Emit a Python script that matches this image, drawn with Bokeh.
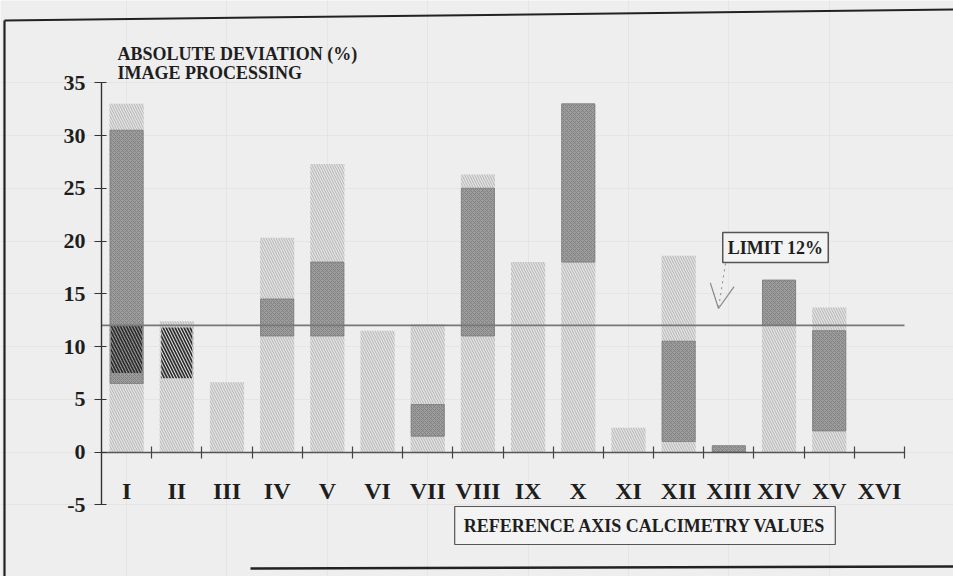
from bokeh.plotting import figure
from bokeh.models import Range1d, LinearAxis, FixedTicker, Label, Arrow, OpenHead, ColumnDataSource
from bokeh.embed import file_html
from bokeh.resources import INLINE

# ---------------- data ----------------
categories = ["I", "II", "III", "IV", "V", "VI", "VII", "VIII",
              "IX", "X", "XI", "XII", "XIII", "XIV", "XV", "XVI"]
totals = [33.0, 12.4, 6.6, 20.3, 27.3, 11.5, 12.1, 26.3,
          18.0, 33.0, 2.3, 18.6, 0.5, 16.3, 13.7, 0.0]
dark_low = [6.5, None, None, 11.0, 11.0, None, 1.5, 11.0,
            None, 18.0, None, 1.0, 0.0, 12.0, 2.0, None]
dark_high = [30.5, None, None, 14.5, 18.0, None, 4.5, 25.0,
             None, 33.0, None, 10.5, 0.6, 16.3, 11.5, None]
band_low = [7.5, 7.0, None, None, None, None, None, None,
            None, None, None, None, None, None, None, None]
band_high = [12.0, 11.8, None, None, None, None, None, None,
             None, None, None, None, None, None, None, None]
y_ticks = [-5, 0, 5, 10, 15, 20, 25, 30, 35]
y_tick_labels = ["-5", "0", "5", "10", "15", "20", "25", "30", "35"]
limit = 12
title_lines = ["ABSOLUTE DEVIATION (%)", "IMAGE PROCESSING"]
limit_text = "LIMIT 12%"
x_title = "REFERENCE AXIS CALCIMETRY VALUES"

# ---------------- layout (page pixels) ----------------
W, H = 953, 576
PX0, PY0 = 0, 0
frame_left_px, frame_right_px = 101, 904
y0_px, px_per_y = 451.5, 10.55
n = len(categories)
px_per_x = (frame_right_px - frame_left_px) / n
x_start = -0.5 - (frame_left_px - PX0) / px_per_x
x_end = x_start + W / px_per_x
y_end = (y0_px - PY0) / px_per_y
y_start = y_end - H / px_per_y


def dx(px):
    return x_start + (px - PX0) / px_per_x


def dy(py):
    return y_end - (py - PY0) / px_per_y


BG = "#eeeeee"
FONT = "Liberation Serif"

p = figure(width=W, height=H, x_range=Range1d(x_start, x_end), y_range=Range1d(y_start, y_end),
           x_axis_location=None, y_axis_location=None, toolbar_location=None,
           output_backend="svg", min_border=0)
p.min_border_left = p.min_border_right = p.min_border_top = p.min_border_bottom = 0
p.background_fill_color = BG
p.border_fill_color = BG
p.outline_line_color = None

idx = list(range(n))

# light bars
p.vbar(x=idx, top=totals, bottom=0, width=0.68, fill_color="#e3e3e3", line_color=None,
       hatch_pattern="\\", hatch_color="#b4b4b4", hatch_scale=5, hatch_weight=1)

# dark segments
dsrc = ColumnDataSource(dict(
    x=[i for i in idx if dark_low[i] is not None],
    lo=[dark_low[i] for i in idx if dark_low[i] is not None],
    hi=[dark_high[i] for i in idx if dark_low[i] is not None]))
p.vbar(x="x", top="hi", bottom="lo", width=0.66, source=dsrc, fill_color="#9d9d9d",
       line_color="#7a7a7a", line_width=0.8,
       hatch_pattern="x", hatch_color="#7b7b7b", hatch_scale=4, hatch_weight=0.8)

# dark-line bands
bsrc = ColumnDataSource(dict(
    x=[i for i in idx if band_low[i] is not None],
    lo=[band_low[i] for i in idx if band_low[i] is not None],
    hi=[band_high[i] for i in idx if band_low[i] is not None]))
p.vbar(x="x", top="hi", bottom="lo", width=0.62, source=bsrc, fill_color=None, fill_alpha=0,
       line_color=None, hatch_pattern="\\", hatch_color="#2a2a2a", hatch_scale=6, hatch_weight=1.6)

# limit line
p.line(x=[-0.5, n - 0.5], y=[limit, limit], line_color="#777777", line_width=1.6)

# axes
yaxis = LinearAxis(fixed_location=-0.5, bounds=(y_ticks[0], y_ticks[-1]),
                   ticker=FixedTicker(ticks=y_ticks, minor_ticks=[]))
yaxis.major_label_overrides = {v: s for v, s in zip(y_ticks, y_tick_labels)}
yaxis.axis_line_color = "#333333"
yaxis.axis_line_width = 1.4
yaxis.major_tick_line_color = "#333333"
yaxis.major_tick_in = 5
yaxis.major_tick_out = 7
yaxis.minor_tick_line_color = None
yaxis.major_label_standoff = 9
yaxis.major_label_text_font = FONT
yaxis.major_label_text_font_style = "bold"
yaxis.major_label_text_font_size = "22px"
yaxis.major_label_text_color = "#1e1e1e"
p.add_layout(yaxis, "left")

xaxis = LinearAxis(fixed_location=0, bounds=(-0.5, n - 0.5),
                   ticker=FixedTicker(ticks=idx, minor_ticks=[i + 0.5 for i in idx]))
xaxis.major_label_overrides = {i: c for i, c in enumerate(categories)}
xaxis.axis_line_color = "#555555"
xaxis.axis_line_width = 1.4
xaxis.major_tick_in = 0
xaxis.major_tick_out = 0
xaxis.minor_tick_in = 6
xaxis.minor_tick_out = 6
xaxis.minor_tick_line_color = "#444444"
xaxis.minor_tick_line_width = 1.2
xaxis.major_label_standoff = 20
xaxis.major_label_text_font = FONT
xaxis.major_label_text_font_style = "bold"
xaxis.major_label_text_font_size = "24px"
xaxis.major_label_text_color = "#1e1e1e"
p.add_layout(xaxis, "below")

# titles
for t, base_py in zip(title_lines, [53, 72]):
    p.add_layout(Label(x=dx(117), y=dy(base_py), text=t, text_font=FONT, text_font_style="bold",
                       text_font_size="18px", text_color="#1e1e1e", text_align="left",
                       text_baseline="alphabetic"))

# limit box and arrow
p.add_layout(Label(x=dx(775), y=dy(247), text=limit_text, text_font=FONT, text_font_style="bold",
                   text_font_size="18px", text_color="#1e1e1e", text_align="center",
                   text_baseline="middle", padding=5, border_line_color="#555555",
                   border_line_width=1.5, background_fill_color="#f3f3f3"))
p.add_layout(Arrow(x_start=dx(725), y_start=dy(263), x_end=dx(718), y_end=dy(308),
                   line_color="#888888", line_width=1, line_dash="dotted",
                   end=OpenHead(size=24, line_color="#888888", line_width=1.2)))

# x-axis title box
p.add_layout(Label(x=dx(644.5), y=dy(525), text=x_title, text_font=FONT, text_font_style="bold",
                   text_font_size="18px", text_color="#1e1e1e", text_align="center",
                   text_baseline="middle", padding=9, border_line_color="#555555",
                   border_line_width=1.2, background_fill_color="#f3f3f3"))

# page frame of the scanned figure
p.line(x=[dx(4), dx(4)], y=[dy(576), dy(20)], line_color="#222222", line_width=2.2)
p.line(x=[dx(4), dx(953)], y=[dy(20), dy(9)], line_color="#222222", line_width=2)
p.line(x=[dx(250), dx(953)], y=[dy(568), dy(566)], line_color="#222222", line_width=2.5)

open("out.html", "w").write(file_html(p, INLINE))
